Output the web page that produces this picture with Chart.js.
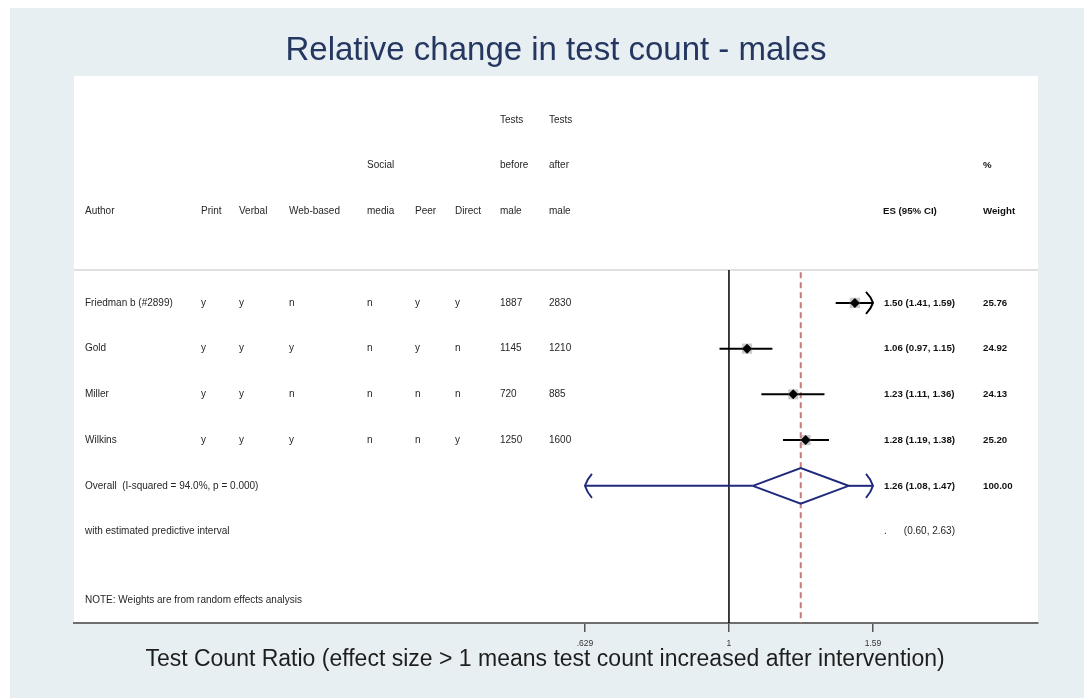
<!DOCTYPE html>
<html>
<head>
<meta charset="utf-8">
<title>Relative change in test count - males</title>
<script src="https://cdn.jsdelivr.net/npm/chart.js@4.4.1/dist/chart.umd.min.js"></script>
<style>
  html, body { margin: 0; padding: 0; background: #ffffff; }
  #wrap { width: 1084px; height: 698px; position: relative; }
</style>
</head>
<body>
<div id="wrap"><canvas id="grafico"></canvas></div>
<script>
// study table
var authors = ['Friedman b (#2899)', 'Gold', 'Miller', 'Wilkins'];
var printCol = ['y', 'y', 'y', 'y'];
var verbalCol = ['y', 'y', 'y', 'y'];
var webCol = ['n', 'y', 'n', 'y'];
var socialCol = ['n', 'n', 'n', 'n'];
var peerCol = ['y', 'y', 'n', 'n'];
var directCol = ['y', 'n', 'n', 'y'];
var testsBefore = [1887, 1145, 720, 1250];
var testsAfter = [2830, 1210, 885, 1600];

// effect sizes (ratio) and 95% CI
var es = [1.50, 1.06, 1.23, 1.28];
var ciLo = [1.41, 0.97, 1.11, 1.19];
var ciHi = [1.59, 1.15, 1.36, 1.38];
var weights = [25.76, 24.92, 24.13, 25.20];

// pooled estimate
var overallEs = 1.26;
var overallLo = 1.08;
var overallHi = 1.47;
var overallWeight = 100.00;
var predLo = 0.60;
var predHi = 2.63;
var hetText = 'Overall  (I-squared = 94.0%, p = 0.000)';

// axis
var xTicks = [0.629, 1, 1.59];
var xTickLabels = ['.629', '1', '1.59'];

var headTop = ['', '', '', '', '', '', '', 'Tests', 'Tests'];
var headMid = ['', '', '', '', 'Social', '', '', 'before', 'after'];
var headLow = ['Author', 'Print', 'Verbal', 'Web-based', 'media', 'Peer', 'Direct', 'male', 'male'];

var FONT = '"Liberation Sans", Arial, sans-serif';
var NAVY = '#1f2a7d';
var firstRow = 5;          // first study row
var overallRow = firstRow + authors.length;
var sepRow = 4.28;
var colX = [85, 201, 239, 289, 367, 415, 455, 500, 549];
var esX = 884, esRight = 955, wtX = 983;

function fmt(v) { return v.toFixed(2); }

var clipLo = xTicks[0];
var clipHi = xTicks[xTicks.length - 1];

var datasets = [];

// vertical line at no effect
datasets.push({
  data: [{x: 1, y: sepRow}, {x: 1, y: 12}],
  showLine: true, borderColor: '#000000', borderWidth: 1.5, pointRadius: 0, order: 20
});
// dashed line at overall estimate
datasets.push({
  data: [{x: overallEs, y: sepRow + 0.05}, {x: overallEs, y: 12}],
  showLine: true, borderColor: '#c97b7b', borderWidth: 2, borderDash: [6, 4], pointRadius: 0, order: 19
});

// confidence intervals
authors.forEach(function (a, i) {
  datasets.push({
    data: [{x: Math.max(ciLo[i], clipLo), y: firstRow + i}, {x: Math.min(ciHi[i], clipHi), y: firstRow + i}],
    showLine: true, borderColor: '#000000', borderWidth: 2, pointRadius: 0, order: 10
  });
});

// weight boxes
datasets.push({
  data: es.map(function (v, i) { return {x: v, y: firstRow + i}; }),
  pointStyle: 'rect',
  pointRadius: weights.map(function (w) { return 7.2 * Math.sqrt(w / 25); }),
  backgroundColor: 'rgba(150,150,150,0.5)', borderWidth: 0, order: 5
});
// point estimates
datasets.push({
  data: es.map(function (v, i) { return {x: v, y: firstRow + i}; }),
  pointStyle: 'rectRot', pointRadius: 5,
  backgroundColor: '#000000', borderWidth: 0, order: 4
});

// pooled diamond
var dh = 0.39;
datasets.push({
  data: [
    {x: overallLo, y: overallRow}, {x: overallEs, y: overallRow - dh},
    {x: overallHi, y: overallRow}, {x: overallEs, y: overallRow + dh},
    {x: overallLo, y: overallRow}
  ],
  showLine: true, borderColor: NAVY, borderWidth: 2, pointRadius: 0, order: 2
});
// predictive interval on both sides of the diamond
datasets.push({
  data: [{x: Math.max(predLo, clipLo), y: overallRow}, {x: overallLo, y: overallRow}],
  showLine: true, borderColor: NAVY, borderWidth: 2, pointRadius: 0, order: 3
});
datasets.push({
  data: [{x: overallHi, y: overallRow}, {x: Math.min(predHi, clipHi), y: overallRow}],
  showLine: true, borderColor: NAVY, borderWidth: 2, pointRadius: 0, order: 3
});

function chevron(ctx, x, y, dir, h, w, color) {
  ctx.save();
  ctx.strokeStyle = color;
  ctx.lineWidth = 2;
  ctx.beginPath();
  ctx.moveTo(x - dir * w, y - h);
  ctx.quadraticCurveTo(x - dir * w * 0.3, y - h * 0.55, x, y);
  ctx.quadraticCurveTo(x - dir * w * 0.3, y + h * 0.55, x - dir * w, y + h);
  ctx.stroke();
  ctx.restore();
}

function txt(ctx, s, x, y, bold, align) {
  ctx.font = (bold ? 'bold 9.7px ' : '10px ') + FONT;
  ctx.fillStyle = bold ? '#111111' : '#262626';
  ctx.textAlign = align || 'left';
  ctx.fillText(s, x, y);
}

var forestPlugin = {
  id: 'forest',
  beforeDraw: function (chart) {
    var ctx = chart.ctx, a = chart.chartArea;
    ctx.save();
    ctx.fillStyle = '#ffffff';
    ctx.fillRect(0, 0, chart.width, chart.height);
    ctx.fillStyle = '#e8eff2';
    ctx.fillRect(10, 8, chart.width - 10, chart.height - 8);
    ctx.fillStyle = '#ffffff';
    ctx.fillRect(a.left, a.top, a.right - a.left, a.bottom - a.top);
    ctx.restore();
  },
  beforeDatasetsDraw: function (chart) {
    var ctx = chart.ctx, a = chart.chartArea;
    var y = chart.scales.y.getPixelForValue(sepRow);
    ctx.save();
    ctx.strokeStyle = '#e0e0e0';
    ctx.lineWidth = 2;
    ctx.beginPath();
    ctx.moveTo(a.left, y);
    ctx.lineTo(a.right, y);
    ctx.stroke();
    ctx.restore();
  },
  afterDatasetsDraw: function (chart) {
    var ctx = chart.ctx;
    var xs = chart.scales.x, ys = chart.scales.y;

    // arrows where intervals run past the axis range
    authors.forEach(function (a, i) {
      var y = ys.getPixelForValue(firstRow + i);
      if (ciHi[i] >= clipHi) chevron(ctx, xs.getPixelForValue(clipHi), y, 1, 11, 7, '#000000');
      if (ciLo[i] <= clipLo) chevron(ctx, xs.getPixelForValue(clipLo), y, -1, 11, 7, '#000000');
    });
    var oy = ys.getPixelForValue(overallRow);
    if (predLo < clipLo) chevron(ctx, xs.getPixelForValue(clipLo), oy, -1, 12, 7, NAVY);
    if (predHi > clipHi) chevron(ctx, xs.getPixelForValue(clipHi), oy, 1, 12, 7, NAVY);

    ctx.save();
    ctx.textBaseline = 'middle';
    // header
    var y1 = ys.getPixelForValue(1), y2 = ys.getPixelForValue(2), y3 = ys.getPixelForValue(3);
    colX.forEach(function (x, c) {
      if (headTop[c]) txt(ctx, headTop[c], x, y1);
      if (headMid[c]) txt(ctx, headMid[c], x, y2);
      txt(ctx, headLow[c], x, y3);
    });
    txt(ctx, '%', wtX, y2, true);
    txt(ctx, 'ES (95% CI)', esX - 1, y3, true);
    txt(ctx, 'Weight', wtX, y3, true);

    // studies
    authors.forEach(function (a, i) {
      var y = ys.getPixelForValue(firstRow + i);
      var cells = [a, printCol[i], verbalCol[i], webCol[i], socialCol[i], peerCol[i], directCol[i],
        String(testsBefore[i]), String(testsAfter[i])];
      cells.forEach(function (s, c) { txt(ctx, s, colX[c], y); });
      txt(ctx, fmt(es[i]) + ' (' + fmt(ciLo[i]) + ', ' + fmt(ciHi[i]) + ')', esX, y, true);
      txt(ctx, fmt(weights[i]), wtX, y, true);
    });

    // pooled rows
    txt(ctx, hetText, colX[0], oy);
    txt(ctx, fmt(overallEs) + ' (' + fmt(overallLo) + ', ' + fmt(overallHi) + ')', esX, oy, true);
    txt(ctx, fmt(overallWeight), wtX, oy, true);
    var py = ys.getPixelForValue(overallRow + 1);
    txt(ctx, 'with estimated predictive interval', colX[0], py);
    txt(ctx, '.', esX, py);
    txt(ctx, '(' + fmt(predLo) + ', ' + fmt(predHi) + ')', esRight, py, false, 'right');

    txt(ctx, 'NOTE: Weights are from random effects analysis', colX[0], ys.getPixelForValue(11.5));
    ctx.restore();
  },
  afterDraw: function (chart) {
    var ctx = chart.ctx;
    ctx.save();
    ctx.font = '23px ' + FONT;
    ctx.fillStyle = '#1e1e1e';
    ctx.textAlign = 'center';
    ctx.textBaseline = 'middle';
    ctx.fillText('Test Count Ratio (effect size > 1 means test count increased after intervention)', 545, 660);
    ctx.restore();
  }
};

var ctx = document.getElementById('grafico').getContext('2d');
window.myChart = new Chart(ctx, {
  type: 'scatter',
  data: { datasets: datasets },
  plugins: [forestPlugin],
  options: {
    responsive: true,
    maintainAspectRatio: false,
    animation: false,
    layout: { padding: { left: 74, right: 46, top: 0, bottom: 0 } },
    plugins: {
      legend: { display: false },
      tooltip: { enabled: false },
      title: {
        display: true,
        text: 'Relative change in test count - males',
        color: '#253760',
        font: { family: FONT, size: 33, weight: 'normal' },
        padding: { top: 31, bottom: 5.4 }
      }
    },
    scales: {
      x: {
        type: 'logarithmic',
        min: 0.1214,
        max: 2.7047,
        bounds: 'data',
        afterBuildTicks: function (scale) {
          scale.ticks = xTicks.map(function (v) { return {value: v}; });
        },
        afterFit: function (scale) { scale.height = 75; },
        ticks: {
          autoSkip: false,
          maxRotation: 0,
          padding: 7,
          color: '#333333',
          font: { family: FONT, size: 8.5 },
          callback: function (v, i) { return xTickLabels[i]; }
        },
        grid: { drawOnChartArea: false, drawTicks: true, tickLength: 9, color: '#555555', lineWidth: 1.5 },
        border: { display: true, color: '#6e6e6e', width: 2 }
      },
      y: {
        type: 'linear',
        reverse: true,
        min: 0.0375,
        max: 12,
        bounds: 'data',
        display: false
      }
    }
  }
});
</script>
</body>
</html>
